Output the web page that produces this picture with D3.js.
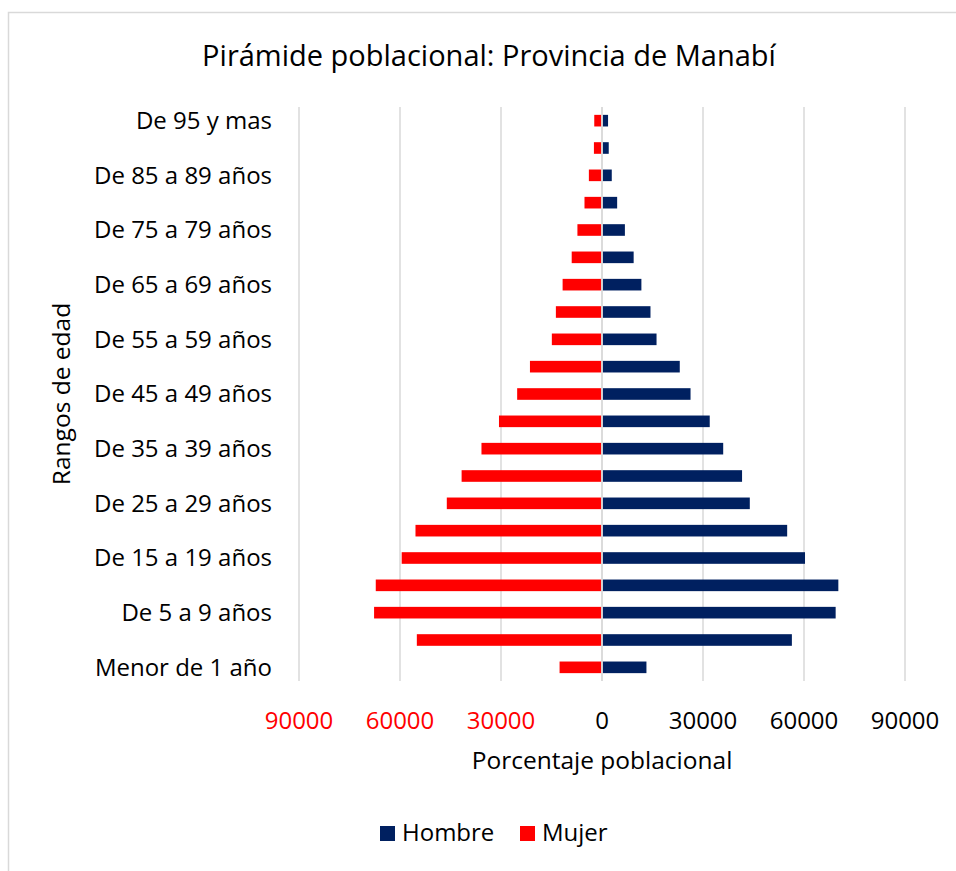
<!DOCTYPE html>
<html>
<head>
<meta charset="utf-8">
<script src="https://cdn.jsdelivr.net/npm/d3@7"></script>
<style>
  html, body { margin: 0; padding: 0; background: #fff; }
  svg { display: block; font-family: "Open Sans", Lato, sans-serif; }
</style>
</head>
<body>
<svg id="chart" width="956" height="871"></svg>
<script>
// ===============================
// Dades
// ===============================
const ageGroups = [
  "Menor de 1 año", "De 1 a 4 años", "De 5 a 9 años", "De 10 a 14 años",
  "De 15 a 19 años", "De 20 a 24 años", "De 25 a 29 años", "De 30 a 34 años",
  "De 35 a 39 años", "De 40 a 44 años", "De 45 a 49 años", "De 50 a 54 años",
  "De 55 a 59 años", "De 60 a 64 años", "De 65 a 69 años", "De 70 a 74 años",
  "De 75 a 79 años", "De 80 a 84 años", "De 85 a 89 años", "De 90 a 94 años",
  "De 95 y mas"
];

const hombre = [
  13200, 56400, 69400, 70200, 60300, 55000, 43900, 41600, 36000, 32000,
  26300, 23100, 16200, 14400, 11700, 9400, 6800, 4500, 2900, 2000, 1800
];

const mujer = [
  12600, 55000, 67700, 67200, 59500, 55400, 46100, 41700, 35800, 30600,
  25200, 21400, 14900, 13700, 11700, 9000, 7300, 5200, 3900, 2400, 2300
];

const xTicks = [-90000, -60000, -30000, 0, 30000, 60000, 90000];

const series = [
  { name: "Hombre", color: "#002060" },
  { name: "Mujer", color: "#ff0000" }
];


// ===============================
// Gràfic
// ===============================
const svg = d3.select("#chart");

const plotLeft = 299;
const plotRight = 905;
const plotTop = 107;
const plotBottom = 681;

// marc exterior
svg.append("rect")
  .attr("x", 8.5)
  .attr("y", 12.5)
  .attr("width", 1000)
  .attr("height", 1000)
  .attr("fill", "white")
  .attr("stroke", "#d9d9d9")
  .attr("stroke-width", 1.5);

const x = d3.scaleLinear()
  .domain([-90000, 90000])
  .range([plotLeft, plotRight]);

// ordre invers: la primera categoria a baix
const y = d3.scaleBand()
  .domain(ageGroups.slice().reverse())
  .range([plotTop, plotBottom])
  .paddingInner(0.575)
  .paddingOuter(0.2875);

// línies de graella
svg.append("g")
  .selectAll("line")
  .data(xTicks)
  .enter()
  .append("line")
  .attr("x1", d => x(d))
  .attr("x2", d => x(d))
  .attr("y1", plotTop)
  .attr("y2", plotBottom)
  .attr("stroke", "#d9d9d9")
  .attr("stroke-width", 1.5);

// barres dones (a l'esquerra)
svg.append("g")
  .selectAll("rect")
  .data(ageGroups)
  .enter()
  .append("rect")
  .attr("x", (d, i) => x(-mujer[i]))
  .attr("y", d => y(d))
  .attr("width", (d, i) => x(0) - x(-mujer[i]) - 0.75)
  .attr("height", y.bandwidth())
  .attr("fill", series[1].color);

// barres homes (a la dreta)
svg.append("g")
  .selectAll("rect")
  .data(ageGroups)
  .enter()
  .append("rect")
  .attr("x", x(0) + 0.75)
  .attr("y", d => y(d))
  .attr("width", (d, i) => x(hombre[i]) - x(0) - 0.75)
  .attr("height", y.bandwidth())
  .attr("fill", series[0].color);

// eix vertical central
svg.append("line")
  .attr("x1", x(0))
  .attr("x2", x(0))
  .attr("y1", plotTop)
  .attr("y2", plotBottom)
  .attr("stroke", "#d9d9d9")
  .attr("stroke-width", 1.5);

// etiquetes de l'eix Y (una de cada dues)
svg.append("g")
  .selectAll("text")
  .data(ageGroups.filter((d, i) => i % 2 === 0))
  .enter()
  .append("text")
  .attr("x", 272)
  .attr("y", d => y(d) + y.bandwidth() / 2)
  .attr("dy", "0.35em")
  .attr("text-anchor", "end")
  .text(d => d)
  .style("font-size", "24px")
  .style("fill", "#000");

// etiquetes de l'eix X
svg.append("g")
  .selectAll("text")
  .data(xTicks)
  .enter()
  .append("text")
  .attr("x", d => x(d))
  .attr("y", 729)
  .attr("text-anchor", "middle")
  .text(d => Math.abs(d))
  .style("font-size", "24px")
  .style("fill", d => d < 0 ? "#ff0000" : "#000");

// títol
svg.append("text")
  .attr("x", 489)
  .attr("y", 66)
  .attr("text-anchor", "middle")
  .text("Pirámide poblacional: Provincia de Manabí")
  .style("font-size", "29px")
  .style("fill", "#000");

// títol eix X
svg.append("text")
  .attr("x", 602)
  .attr("y", 769)
  .attr("text-anchor", "middle")
  .text("Porcentaje poblacional")
  .style("font-size", "24.5px")
  .style("fill", "#000");

// títol eix Y
svg.append("text")
  .attr("transform", "translate(70, 394) rotate(-90)")
  .attr("text-anchor", "middle")
  .text("Rangos de edad")
  .style("font-size", "24.5px")
  .style("fill", "#000");

// llegenda
const legendItems = [
  { name: series[0].name, color: series[0].color, x: 380 },
  { name: series[1].name, color: series[1].color, x: 520 }
];

const legend = svg.append("g")
  .selectAll("g")
  .data(legendItems)
  .enter()
  .append("g")
  .attr("transform", d => `translate(${d.x}, 833)`);

legend.append("rect")
  .attr("x", 0)
  .attr("y", -7)
  .attr("width", 15)
  .attr("height", 15)
  .attr("fill", d => d.color);

legend.append("text")
  .attr("x", 22)
  .attr("y", 0)
  .attr("dy", "0.35em")
  .text(d => d.name)
  .style("font-size", "24px")
  .style("fill", "#000");
</script>
</body>
</html>
